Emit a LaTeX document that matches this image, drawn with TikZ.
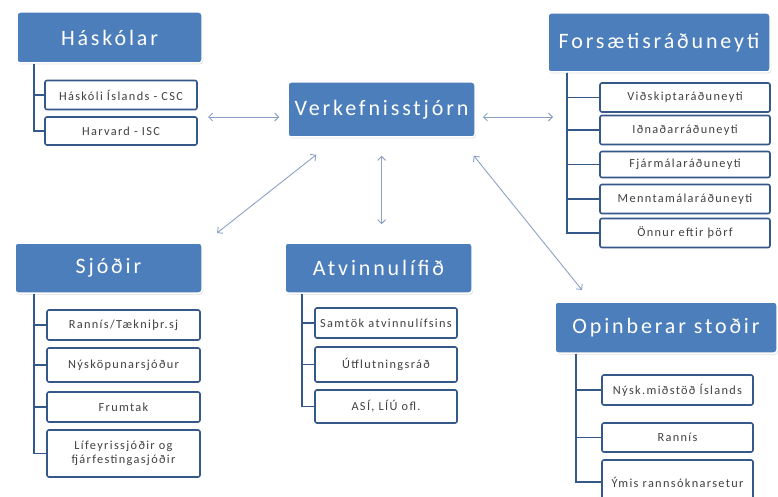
\documentclass[tikz,border=0pt]{standalone}
\usepackage{fontspec}
\setmainfont{Carlito}
\newfontfamily\headfont[LetterSpace=13]{Carlito}
\newfontfamily\leaffont[LetterSpace=11]{Carlito}
\usetikzlibrary{arrows.meta,shadows,positioning}
\definecolor{headblue}{HTML}{4C7EBB}
\definecolor{darkblue}{HTML}{35588A}
\definecolor{linkblue}{HTML}{8CA1C6}
\tikzset
{
	headnode/.style = {rectangle, rounded corners=3pt, fill=headblue, draw=white, line width=1.5pt, text=white, font=\headfont\fontsize{22}{26}\selectfont, inner sep=0pt, drop shadow={opacity=0.25, shadow xshift=1pt, shadow yshift=-1.5pt}},
	leafnode/.style = {rectangle, rounded corners=2pt, fill=white, draw=darkblue, line width=1.6pt, text=black!75, font=\leaffont\fontsize{12.3}{14}\selectfont, align=center, inner sep=0pt, minimum height=29pt},
	branch/.style   = {draw=darkblue, line width=1.6pt},
	link/.style     = {draw=linkblue, line width=0.9pt, {Straight Barb[length=4pt,width=8pt]}-{Straight Barb[length=4pt,width=8pt]}}
}

\begin{document}
\begin{tikzpicture}[x=1pt, y=-1pt]
\useasboundingbox (0,0) rectangle (778,497);

% centre
\node[headnode, minimum width=187pt, minimum height=55pt] (verk) at (381.5,109.5) {Verkefnisstjórn};

% Háskólar
\node[headnode, minimum width=185pt, minimum height=51pt] (hask) at (109.5,37.5) {Háskólar};
\node[leafnode, minimum width=152pt] (hask1) at (121,95) {Háskóli Íslands - CSC};
\node[leafnode, minimum width=152pt, minimum height=28pt] (hask2) at (121,131) {Harvard - ISC};
\foreach \c in {hask1,hask2}
	\draw[branch] ([xshift=18pt]hask.south west) |- (\c.west);

% Forsætisráðuneyti
\node[headnode, minimum width=222pt, minimum height=59pt] (fors) at (659,42.5) {Forsætisráðuneyti};
\node[leafnode, minimum width=170pt] (fors1) at (685,97.5) {Viðskiptaráðuneyti};
\node[leafnode, minimum width=170pt] (fors2) at (685,130) {Iðnaðarráðuneyti};
\node[leafnode, minimum width=170pt, minimum height=26pt] (fors3) at (685,164.5) {Fjármálaráðuneyti};
\node[leafnode, minimum width=170pt] (fors4) at (685,199) {Menntamálaráðuneyti};
\node[leafnode, minimum width=170pt] (fors5) at (685,233) {Önnur eftir þörf};
\foreach \c in {fors1,fors2,fors3,fors4,fors5}
	\draw[branch] ([xshift=20pt]fors.south west) |- (\c.west);

% Sjóðir
\node[headnode, minimum width=187pt, minimum height=50pt] (sjod) at (108.5,268) {Sjóðir};
\node[leafnode, minimum width=153pt, minimum height=30pt] (sjod1) at (123.5,325) {Rannís/Tækniþr.sj};
\node[leafnode, minimum width=153pt, minimum height=34pt] (sjod2) at (123.5,365) {Nýsköpunarsjóður};
\node[leafnode, minimum width=153pt, minimum height=30pt] (sjod3) at (123.5,407) {Frumtak};
\node[leafnode, minimum width=153pt, minimum height=47pt] (sjod4) at (123.5,453.5) {Lífeyrissjóðir og\\fjárfestingasjóðir};
\foreach \c in {sjod1,sjod2,sjod3,sjod4}
	\draw[branch] ([xshift=20pt]sjod.south west) |- (\c.west);

% Atvinnulífið
\node[headnode, minimum width=187pt, minimum height=50pt] (atv) at (378.5,268) {Atvinnulífið};
\node[leafnode, minimum width=142pt, minimum height=30pt] (atv1) at (386,323) {Samtök atvinnulífsins};
\node[leafnode, minimum width=142pt, minimum height=35pt] (atv2) at (386,364.5) {Útflutningsráð};
\node[leafnode, minimum width=142pt, minimum height=33pt] (atv3) at (386,406.5) {ASÍ, LÍÚ ofl.};
\foreach \c in {atv1,atv2,atv3}
	\draw[branch] ([xshift=18pt]atv.south west) |- (\c.west);

% Opinberar stoðir
\node[headnode, minimum width=222pt, minimum height=51pt] (opin) at (666,327.5) {Opinberar stoðir};
\node[leafnode, minimum width=151pt, minimum height=30pt] (opin1) at (677.5,390) {Nýsk.miðstöð Íslands};
\node[leafnode, minimum width=151pt, minimum height=29pt] (opin2) at (677.5,437.5) {Rannís};
\node[leafnode, minimum width=151pt, minimum height=44pt] (opin3) at (677.5,482) {Ýmis rannsóknarsetur};
\foreach \c in {opin1,opin2,opin3}
	\draw[branch] ([xshift=22pt]opin.south west) |- (\c.west);

% arrows
\coordinate (haskend) at (208,117);
\coordinate (forsend) at (553,117);
\coordinate (sjodend) at (217,233);
\coordinate (opinend) at (582,290);
\draw[link] (haskend) -- ([shift={(-8pt,-7.5pt)}]verk.west);
\draw[link] ([shift={(7pt,-7.5pt)}]verk.east) -- (forsend);
\draw[link] ([shift={(29pt,-17pt)}]verk.south west) -- (sjodend);
\draw[link] ([yshift=-18pt]verk.south) -- ([yshift=18pt]verk.south |- atv.north);
\draw[link] ([shift={(-2pt,-18pt)}]verk.south east) -- (opinend);
\end{tikzpicture}
\end{document}
